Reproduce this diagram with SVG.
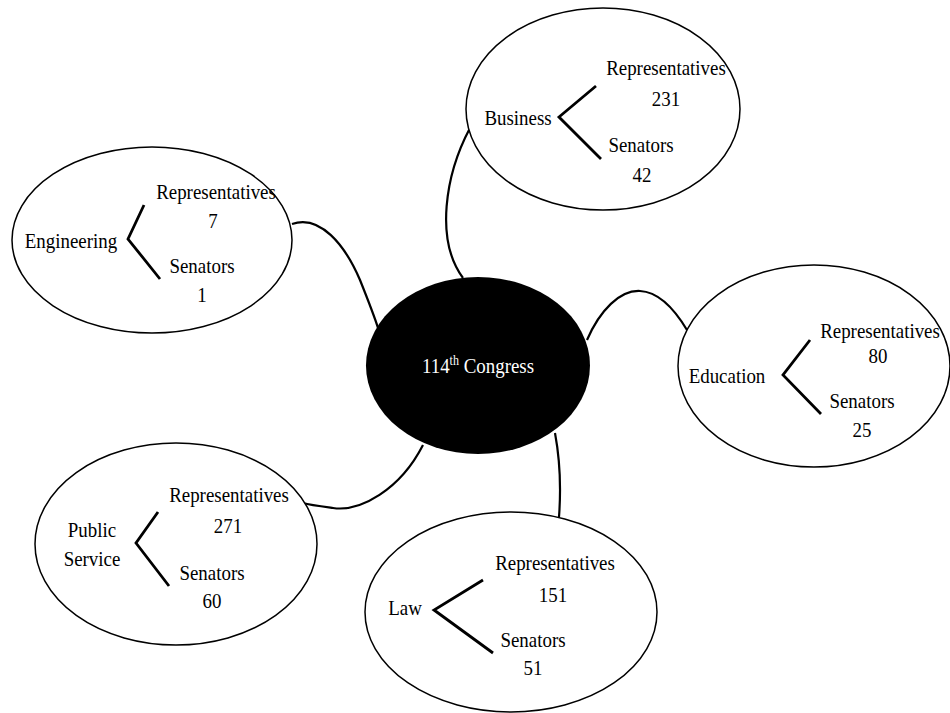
<svg xmlns="http://www.w3.org/2000/svg" width="950" height="713" viewBox="0 0 950 713">
<style>
.bub{fill:#fff;stroke:#000;stroke-width:1.5}
.t{font-family:"Liberation Serif","Times New Roman",serif;font-size:22px;fill:#000;text-anchor:middle;transform-box:fill-box;transform-origin:center;transform:scaleX(0.86)}
.br{fill:none;stroke:#000;stroke-width:2.8;stroke-linejoin:miter}
.c{fill:none;stroke:#000;stroke-width:2.2}
</style>
<rect width="950" height="713" fill="#fff"/>
<g id="connectors">
<path class="c" d="M292,224 C320,214 345,245 360,280 C368,300 374,315 378,328"/>
<path class="c" d="M470,128 C445,175 435,240 463,278"/>
<path class="c" d="M587,340 C600,310 620,290 640,291 C660,292 675,310 687,330"/>
<path class="c" d="M555,433 C560,460 561,490 559,517"/>
<path class="c" d="M423,445 C400,490 360,512 333,508 C318,506 310,505 303,503"/>
</g>
<g id="engineering">
<ellipse class="bub" cx="152" cy="240" rx="140" ry="93"/>
<text class="t" x="71" y="248">Engineering</text>
<polyline class="br" points="144,205 128,239 160,279"/>
<text class="t" x="216" y="199">Representatives</text>
<text class="t" x="213" y="228">7</text>
<text class="t" x="202" y="273">Senators</text>
<text class="t" x="202" y="302">1</text>
</g>
<g id="business">
<ellipse class="bub" cx="603" cy="109" rx="137" ry="101"/>
<text class="t" x="518" y="125">Business</text>
<polyline class="br" points="596,86 559,117 601,159"/>
<text class="t" x="666" y="75">Representatives</text>
<text class="t" x="666" y="106">231</text>
<text class="t" x="641" y="152">Senators</text>
<text class="t" x="642" y="182">42</text>
</g>
<g id="education">
<ellipse class="bub" cx="814" cy="366" rx="136" ry="101"/>
<text class="t" x="727" y="383">Education</text>
<polyline class="br" points="810,340 783,375 821,414"/>
<text class="t" x="880" y="338">Representatives</text>
<text class="t" x="878" y="363">80</text>
<text class="t" x="862" y="408">Senators</text>
<text class="t" x="862" y="437">25</text>
</g>
<g id="public-service">
<ellipse class="bub" cx="176" cy="544" rx="141" ry="101"/>
<text class="t" x="92" y="537">Public</text>
<text class="t" x="92" y="566">Service</text>
<polyline class="br" points="158,512 136,543 169,586"/>
<text class="t" x="229" y="502">Representatives</text>
<text class="t" x="228" y="533">271</text>
<text class="t" x="212" y="580">Senators</text>
<text class="t" x="212" y="608">60</text>
</g>
<g id="law">
<ellipse class="bub" cx="511" cy="612" rx="146" ry="100"/>
<text class="t" x="405" y="615">Law</text>
<polyline class="br" points="483,580 434,610 493,653"/>
<text class="t" x="555" y="570">Representatives</text>
<text class="t" x="553" y="602">151</text>
<text class="t" x="533" y="647">Senators</text>
<text class="t" x="533" y="675">51</text>
</g>
<g id="center">
<ellipse cx="478" cy="365.5" rx="112" ry="88.5" fill="#000"/>
<text class="t" x="478" y="373" style="fill:#fff">114<tspan font-size="14" dy="-8">th</tspan><tspan dy="8"> Congress</tspan></text>
</g>
</svg>
